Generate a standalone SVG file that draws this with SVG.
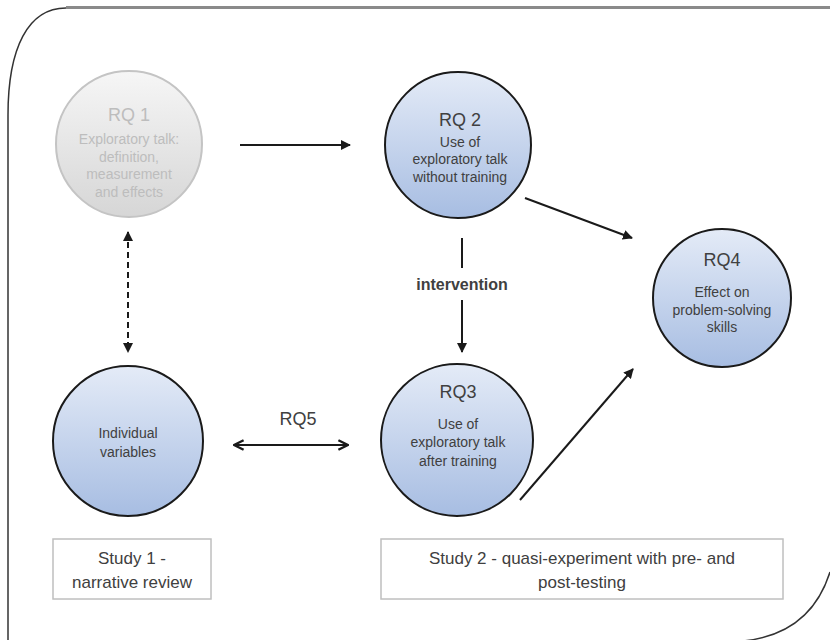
<svg xmlns="http://www.w3.org/2000/svg" width="830" height="640" viewBox="0 0 830 640">
<defs>
<linearGradient id="blue" x1="0" y1="0" x2="0" y2="1">
<stop offset="0" stop-color="#e4ebf7"/>
<stop offset="1" stop-color="#a7bde2"/>
</linearGradient>
<linearGradient id="grey" x1="0" y1="0" x2="0" y2="1">
<stop offset="0" stop-color="#f6f6f6"/>
<stop offset="1" stop-color="#d6d6d6"/>
</linearGradient>
<marker id="ah" viewBox="0 0 10 10" refX="9" refY="5" markerWidth="5" markerHeight="5" orient="auto-start-reverse">
<path d="M0,0 L10,5 L0,10 z" fill="#1a1a1a"/>
</marker>
<marker id="chev" viewBox="0 0 10 10" refX="9" refY="5" markerWidth="6" markerHeight="6" orient="auto-start-reverse">
<path d="M1,1 L9,5 L1,9" fill="none" stroke="#1a1a1a" stroke-width="2"/>
</marker>
<style>
.node{fill:url(#blue);stroke:#1a1a1a;stroke-width:2}
.gnode{fill:url(#grey);stroke:#c4c4c4;stroke-width:2}
.t{font-family:"Liberation Sans",Arial,sans-serif;fill:#404040;text-anchor:middle}
.title{font-size:18px}
.body{font-size:14px}
.gt{fill:#bdbdbd}
.box{fill:#fff;stroke:#bfbfbf;stroke-width:1.5}
.boxt{font-size:17px}
.ln{stroke:#1a1a1a;stroke-width:2;fill:none}
</style>
</defs>
<rect width="830" height="640" fill="#fff"/>
<g id="frame">
<path d="M8,640 V115 C8,48 28,8 66,8" fill="none" stroke="#333" stroke-width="1.5"/>
<path d="M66,7.5 H830" fill="none" stroke="#8a8a8a" stroke-width="3"/>
<path d="M830,572 C818,610 792,636 743,641" fill="none" stroke="#333" stroke-width="1.5"/>
</g>
<g id="connectors">
<path class="ln" d="M240,145 H350" marker-end="url(#ah)"/>
<path class="ln" d="M128,232 V352" stroke-dasharray="6,4" marker-start="url(#ah)" marker-end="url(#ah)"/>
<path class="ln" d="M462,238 V268"/>
<path class="ln" d="M462,300 V352" marker-end="url(#ah)"/>
<path class="ln" d="M525,198 L632,238" marker-end="url(#ah)"/>
<path class="ln" d="M520,500 L633,369" marker-end="url(#ah)"/>
<path class="ln" d="M234,445 H348" marker-start="url(#chev)" marker-end="url(#chev)"/>
<text class="t" x="462" y="290" font-size="16" font-weight="bold" fill="#1a1a1a">intervention</text>
<text class="t title" x="298" y="425">RQ5</text>
</g>
<g id="rq1">
<circle class="gnode" cx="129" cy="144" r="73"/>
<text class="t title gt" x="129" y="121">RQ 1</text>
<text class="t body gt" x="129" y="144">Exploratory talk:</text>
<text class="t body gt" x="129" y="162">definition,</text>
<text class="t body gt" x="129" y="179">measurement</text>
<text class="t body gt" x="129" y="197">and effects</text>
</g>
<g id="rq2">
<circle class="node" cx="458" cy="145" r="73"/>
<text class="t title" x="460" y="126">RQ 2</text>
<text class="t body" x="460" y="147">Use of</text>
<text class="t body" x="460" y="164">exploratory talk</text>
<text class="t body" x="460" y="182">without training</text>
</g>
<g id="rq4">
<circle class="node" cx="722" cy="298" r="69"/>
<text class="t title" x="722" y="266">RQ4</text>
<text class="t body" x="722" y="297">Effect on</text>
<text class="t body" x="722" y="315">problem-solving</text>
<text class="t body" x="722" y="332">skills</text>
</g>
<g id="rq3">
<circle class="node" cx="457" cy="440" r="76"/>
<text class="t title" x="458" y="398">RQ3</text>
<text class="t body" x="458" y="429">Use of</text>
<text class="t body" x="458" y="447">exploratory talk</text>
<text class="t body" x="458" y="466">after training</text>
</g>
<g id="individual">
<circle class="node" cx="128" cy="441" r="75"/>
<text class="t body" x="128" y="438">Individual</text>
<text class="t body" x="128" y="457">variables</text>
</g>
<g id="study1">
<rect class="box" x="53" y="539" width="158" height="60"/>
<text class="t boxt" x="132" y="564">Study 1 -</text>
<text class="t boxt" x="132" y="588">narrative review</text>
</g>
<g id="study2">
<rect class="box" x="381" y="539" width="402" height="60"/>
<text class="t boxt" x="582" y="564">Study 2 - quasi-experiment with pre- and</text>
<text class="t boxt" x="582" y="588">post-testing</text>
</g>
</svg>
